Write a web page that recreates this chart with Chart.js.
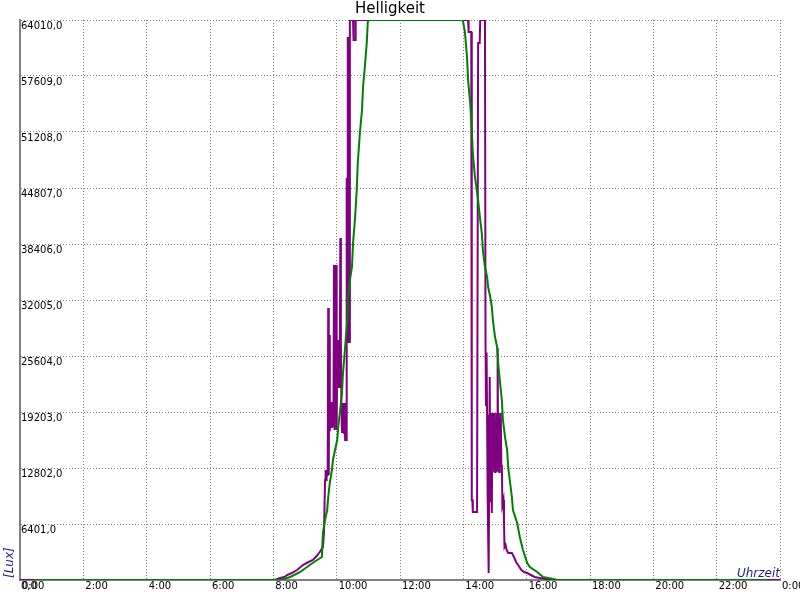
<!DOCTYPE html>
<html>
<head>
<meta charset="utf-8">
<title>Helligkeit</title>
<script src="https://cdn.jsdelivr.net/npm/chart.js@4.4.0/dist/chart.umd.min.js"></script>
<style>
    body { margin: 0; background: #ffffff; }
    canvas { display: block; }
</style>
</head>
<body>
<canvas id="chart" width="800" height="600"></canvas>
<script>
// time in minutes since midnight, brightness in lux
const sensorATimes = [0, 483, 490, 502, 506, 515, 525, 536, 545, 555, 562, 568, 574, 576, 578, 579, 580, 581, 582, 583,
    584, 585, 586, 587, 588, 589, 590, 591, 592, 593, 594, 595, 596, 597, 598, 599, 600, 601, 602, 603,
    604, 605, 606, 607, 608, 609, 610, 611, 612, 613, 614, 615, 616, 617, 618, 619, 620, 621, 622, 623,
    624, 625, 631, 632, 635, 636, 849, 850, 855, 856, 857, 858, 866, 868, 871, 872, 881, 882, 883, 884,
    885, 886, 888, 890, 891, 892, 893, 894, 895, 896, 897, 898, 899, 900, 901, 902, 903, 904, 905, 906,
    907, 908, 909, 910, 911, 912, 913, 914, 916, 917, 918, 920, 922, 925, 932, 936, 940, 945, 950, 955,
    961, 968, 975, 985, 995, 1005, 1440];
const sensorAValues = [0, 0, 171, 377, 572, 800, 1143, 1715, 2000, 2286, 2743, 3200, 3772, 5500, 11430, 12573, 11430, 12573, 12000, 12573,
    31090, 12000, 28000, 17000, 20345, 17374, 20345, 17374, 20000, 17488, 20000, 36004, 17145, 33000, 19000, 36004, 17145, 25000, 27432, 22060,
    27432, 22060, 26000, 39090, 27432, 20231, 16802, 20231, 17000, 20231, 16802, 20231, 16002, 20231, 16002, 45949, 27203, 62065, 27203, 62065,
    27203, 64010, 64010, 61722, 61722, 64010, 64010, 62636, 62636, 9144, 9144, 7772, 7772, 61379, 61379, 64010, 64010, 27432, 20000, 26000,
    18860, 9944, 800, 23203, 9000, 12000, 19088, 7658, 18000, 12344, 19088, 13000, 19088, 12344, 18500, 13000, 19088, 12500, 26518, 13000,
    19088, 12344, 18500, 13500, 19088, 13000, 13144, 8572, 9144, 6858, 3772, 4000, 3429, 3086, 3086, 2629, 2057, 1600, 1143, 914,
    800, 572, 343, 229, 114, 0, 0];

const sensorBTimes = [28, 493, 512, 531, 549, 563, 572, 574, 578, 582, 584, 587, 591, 593, 597, 601, 603, 606, 610, 612,
    616, 620, 621, 625, 629, 631, 635, 638, 640, 644, 648, 650, 654, 657, 659, 661, 839, 843, 847, 849,
    853, 856, 858, 862, 868, 872, 875, 877, 881, 885, 887, 891, 894, 896, 900, 904, 906, 909, 913, 915,
    919, 923, 925, 928, 932, 934, 942, 947, 953, 961, 966, 980, 991, 1010, 1018, 1415];
const sensorBValues = [0, 0, 343, 914, 1715, 2286, 2629, 5372, 6858, 8001, 9487, 11087, 12573, 13716, 14859, 16002, 17488, 19088, 21374, 23660,
    26632, 29718, 32004, 34290, 35776, 38519, 41491, 44577, 47663, 51092, 53721, 56350, 59093, 61379, 63779, 64010, 64010, 62636, 59779, 57150,
    54521, 51435, 48806, 46063, 43434, 41148, 39662, 37719, 35776, 34633, 33490, 32347, 31204, 29718, 27775, 26632, 24803, 22860, 20574, 18288,
    16345, 14859, 12916, 11430, 9487, 8001, 6515, 4915, 3429, 1943, 1486, 914, 343, 114, 0, 0];

// axis ranges
const luxMax = 64010;
const luxStep = 6401;
const hourStep = 2;

const fontFamily = "'DejaVu Sans', sans-serif";
const unitColor = "#1c1c9c";

function toPoints(times, values) {
    return times.map((t, i) => ({ x: t, y: values[i] }));
}

// [Lux] and Uhrzeit are drawn inside the plot corners
const unitLabels = {
    id: "unitLabels",
    afterDraw(chart) {
        const ctx = chart.ctx;
        const area = chart.chartArea;
        ctx.save();
        ctx.fillStyle = unitColor;
        ctx.font = "italic 12px " + fontFamily;
        ctx.textBaseline = "alphabetic";
        ctx.textAlign = "right";
        ctx.fillText("Uhrzeit", area.right, area.bottom - 3);

        ctx.translate(area.left - 7, area.bottom - 2);
        ctx.rotate(-Math.PI / 2);
        ctx.textAlign = "left";
        ctx.fillText("[Lux]", 0, 0);
        ctx.restore();
    }
};

function createChart(ctx) {
    const gridColor = "#808080";

    return new Chart(ctx, {
        type: "line",
        data: {
            datasets: [{
                label: "Sensor 2",
                data: toPoints(sensorBTimes, sensorBValues),
                borderColor: "#008000",
                borderWidth: 2,
                pointRadius: 0,
                tension: 0,
                fill: false,
            }, {
                label: "Sensor 1",
                data: toPoints(sensorATimes, sensorAValues),
                borderColor: "#800080",
                borderWidth: 2,
                pointRadius: 0,
                tension: 0,
                fill: false,
            }],
        },
        options: {
            responsive: false,
            animation: false,
            parsing: false,
            layout: {
                padding: { left: 0, right: 20, top: 0, bottom: 0 }
            },
            plugins: {
                legend: { display: false },
                tooltip: { enabled: false },
                title: {
                    display: true,
                    text: "Helligkeit",
                    color: "#000000",
                    font: { family: fontFamily, size: 15, weight: "normal" },
                    padding: { top: 0, bottom: 2 },
                }
            },
            scales: {
                x: {
                    type: "linear",
                    min: 0,
                    max: 24 * 60,
                    afterFit(scale) {
                        scale.height = 20;
                        scale.paddingLeft = 0;
                        scale.paddingRight = 0;
                    },
                    grid: { color: gridColor, lineWidth: 1, drawTicks: false },
                    border: { display: true, color: "#808080", width: 2, dash: [1, 2] },
                    ticks: {
                        stepSize: hourStep * 60,
                        maxTicksLimit: 20,
                        autoSkip: false,
                        maxRotation: 0,
                        align: "start",
                        labelOffset: 2,
                        padding: 0,
                        color: "#000000",
                        font: { family: fontFamily, size: 10 },
                        callback: (value) => ((value / 60) % 24) + ":00",
                    }
                },
                y: {
                    min: 0,
                    max: luxMax,
                    afterFit(scale) {
                        scale.width = 20;
                    },
                    grid: { color: gridColor, lineWidth: 1, drawTicks: false },
                    border: { display: true, color: "#808080", width: 2, dash: [1, 2] },
                    ticks: {
                        stepSize: luxStep,
                        maxTicksLimit: 20,
                        mirror: true,
                        padding: 1,
                        labelOffset: 6,
                        color: "#000000",
                        font: { family: fontFamily, size: 10 },
                        callback: (value) => value.toFixed(1).replace(".", ","),
                    }
                }
            }
        },
        plugins: [unitLabels]
    });
}

const chart = createChart(document.getElementById("chart").getContext("2d"));
</script>
</body>
</html>
